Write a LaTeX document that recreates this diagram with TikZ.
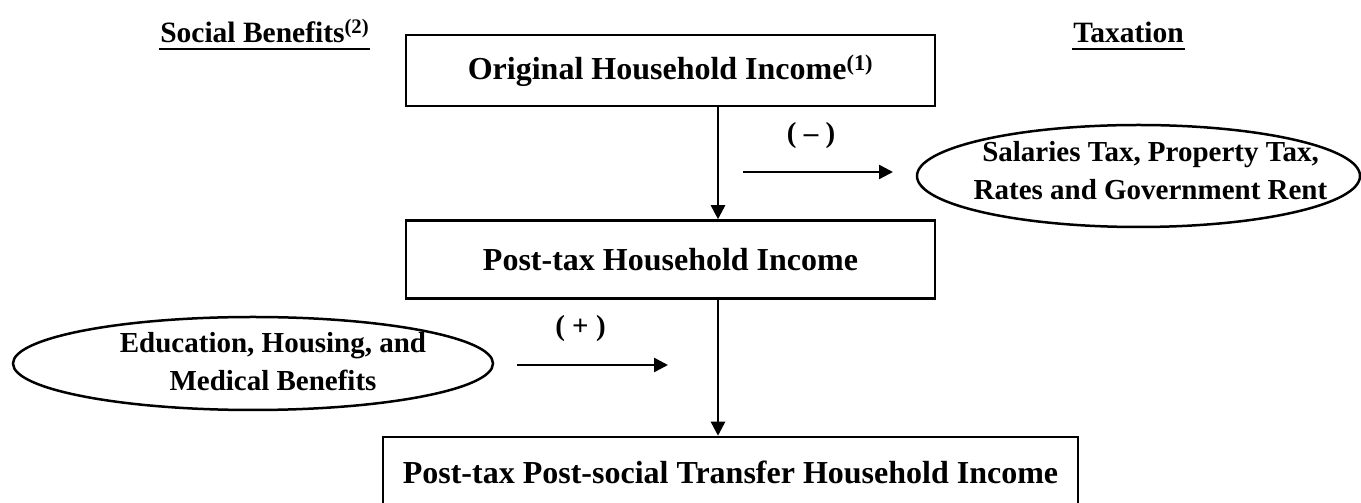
\documentclass[tikz,border=0pt]{standalone}
\usepackage{fontspec}
\setmainfont{Liberation Serif}
\usetikzlibrary{shapes.geometric,arrows.meta,positioning,calc}

\begin{document}
\begin{tikzpicture}[
    x=1pt, y=1pt,
    line width=2.5pt,
    incomebox/.style={rectangle, draw, minimum width=529pt, minimum height=71pt, inner sep=0pt, font=\fontsize{32}{38}\selectfont\bfseries},
    sourceell/.style={ellipse, draw, inner sep=0pt},
    elltext/.style={align=center, inner sep=0pt, font=\fontsize{29}{38}\selectfont\bfseries},
    heading/.style={anchor=base west, inner sep=0pt, font=\fontsize{29.5}{36}\selectfont\bfseries},
    sign/.style={inner sep=0pt, font=\fontsize{29}{36}\selectfont\bfseries},
    arrow/.style={-{Triangle[length=14pt, width=14pt]}}
  ]
    \useasboundingbox (0,0) rectangle (1361,503);

    % income stages
    \node[incomebox] (orig) at (670.5,432.5) {Original Household Income\textsuperscript{(1)}};
    \node[incomebox, minimum height=78pt, below=112pt of orig] (posttax) {Post-tax Household Income};
    \node[incomebox, minimum width=695pt] (final) at (730.5,30.5) {Post-tax Post-social Transfer Household Income};

    % taxation and benefits
    \node[sourceell, minimum width=443pt, minimum height=102pt] (tax) at (1138.5,327) {};
    \node[elltext, xshift=12pt, yshift=5pt] (taxtext) at (tax.center) {Salaries Tax, Property Tax,\\Rates and Government Rent};
    \node[sourceell, minimum width=480pt, minimum height=93pt] (benefit) at (253,139.5) {};
    \node[elltext, xshift=20pt, yshift=2pt] (benefittext) at (benefit.center) {Education, Housing, and\\Medical Benefits};

    % headings
    \node[heading] (socialhead) at (159,460) {Social Benefits\textsuperscript{(2)}};
    \node[heading] (taxhead) at (1072,460) {Taxation};
    \draw[line width=2.8pt] ($(socialhead.base west)+(0,-6)$) -- ($(socialhead.base east)+(0,-6)$);
    \draw[line width=2.8pt] ($(taxhead.base west)+(0,-6)$) -- ($(taxhead.base east)+(0,-6)$);

    % arrows
    \coordinate (spine) at (718,0);
    \coordinate (taxfrom) at (743,331);
    \coordinate (taxto) at (893,331);
    \coordinate (benefitfrom) at (517,138);
    \coordinate (benefitto) at (668,138);

    \draw[arrow] (orig.south -| spine) -- (posttax.north -| spine);
    \draw[arrow] (posttax.south -| spine) -- (final.north -| spine);
    \draw[arrow] (taxfrom) -- node[sign, above=22pt, xshift=-7pt] (minus) {( – )} (taxto);
    \draw[arrow] (benefitfrom) -- node[sign, above=22pt, xshift=-12pt] (plus) {( + )} (benefitto);
  \end{tikzpicture}
\end{document}
